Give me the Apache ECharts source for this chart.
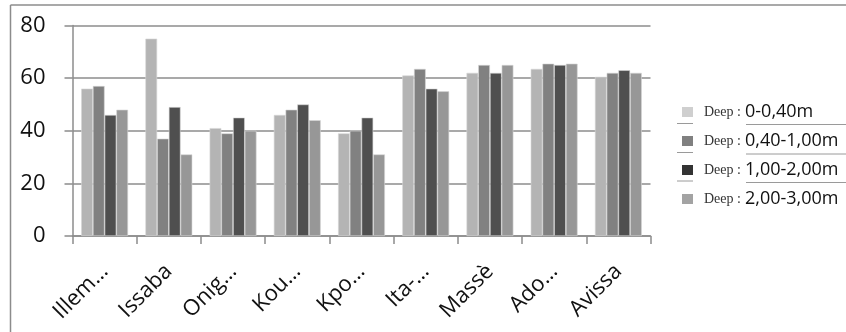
<!DOCTYPE html>
<html>
<head>
<meta charset="utf-8">
<script src="https://cdn.jsdelivr.net/npm/echarts@6/dist/echarts.min.js"></script>
<style>
  html, body { margin: 0; padding: 0; background: #fff; }
  #chart { width: 846px; height: 332px; }
</style>
</head>
<body>
<div id="chart"></div>
<script>
// Sites along the x axis (labels shortened as displayed)
const sites = ['Illem…', 'Issaba', 'Onig…', 'Kou…', 'Kpo…', 'Ita-…', 'Massè', 'Ado…', 'Avissa'];

// Depth classes
const depthNames = ['0-0,40m', '0,40-1,00m', '1,00-2,00m', '2,00-3,00m'];

// Values per depth class, one per site
const depth0to040 = [56, 75, 41, 46, 39, 61, 62, 63.5, 60.5];
const depth040to100 = [57, 37, 39, 48, 40, 63.5, 65, 65.5, 62];
const depth100to200 = [46, 49, 45, 50, 45, 56, 62, 65, 63];
const depth200to300 = [48, 31, 40, 44, 31, 55, 65, 65.5, 62];

const yTicks = { min: 0, max: 80, interval: 20 };

const seriesValues = [depth0to040, depth040to100, depth100to200, depth200to300];
const barColors = ['#b4b4b4', '#818181', '#4f4f4f', '#979797'];
const legendColors = ['#cfcfcf', '#808080', '#333333', '#a3a3a3'];

const chart = echarts.init(document.getElementById('chart'), null, { renderer: 'canvas' });

const series = seriesValues.map((vals, i) => ({
  name: 'Deep : ' + depthNames[i],
  type: 'bar',
  data: vals,
  barGap: '0%',
  barCategoryGap: '27%',
  itemStyle: { color: barColors[i], borderColor: '#d6d6d6', borderWidth: 0.6 },
  emphasis: { disabled: true }
}));

// Separator rules between legend entries
const sepGraphics = [];
[[123.5, 124.5], [152.5, 154], [181, 182.5]].forEach(([ys, yl]) => {
  sepGraphics.push({ type: 'line', shape: { x1: 677, y1: ys, x2: 693, y2: ys }, style: { stroke: '#9a9a9a', lineWidth: 1 } });
  sepGraphics.push({ type: 'line', shape: { x1: 746, y1: yl, x2: 846, y2: yl }, style: { stroke: '#9a9a9a', lineWidth: 1 } });
});

chart.setOption({
  animation: false,
  backgroundColor: '#ffffff',
  grid: { left: 72.5, right: 195.5, top: 25.5, bottom: 96, containLabel: false },
  legend: {
    orient: 'vertical',
    left: 677,
    top: 98,
    itemWidth: 11,
    itemHeight: 10,
    itemGap: 11,
    icon: 'rect',
    data: series.map((s, i) => ({ name: s.name, itemStyle: { color: legendColors[i], borderWidth: 0 } })),
    formatter: name => {
      const parts = name.split(' : ');
      return '{a|' + parts[0] + ' :}{b|' + parts[1] + '}';
    },
    textStyle: {
      rich: {
        a: { fontFamily: 'Liberation Serif', fontSize: 14, color: '#333', width: 41, padding: [0, 0, 0, 6] },
        b: { fontFamily: 'Open Sans', fontSize: 18, color: '#111' }
      }
    }
  },
  xAxis: {
    type: 'category',
    data: sites,
    axisLine: { lineStyle: { color: '#8c8c8c', width: 1.5 } },
    axisTick: { show: true, length: 8, lineStyle: { color: '#8c8c8c', width: 1.5 } },
    axisLabel: {
      rotate: 45,
      margin: 32,
      fontFamily: 'Open Sans',
      fontSize: 22,
      color: '#111',
      interval: 0
    }
  },
  yAxis: {
    type: 'value',
    min: yTicks.min,
    max: yTicks.max,
    interval: yTicks.interval,
    axisLine: { show: true, lineStyle: { color: '#8c8c8c', width: 1.5 } },
    axisTick: { show: true, length: 8, lineStyle: { color: '#8c8c8c', width: 1.5 } },
    splitLine: { lineStyle: { color: '#8c8c8c', width: 1.5 } },
    axisLabel: {
      margin: 27,
      fontFamily: 'Open Sans',
      fontSize: 22,
      color: '#111'
    }
  },
  graphic: [
    { type: 'line', shape: { x1: 10.5, y1: 5, x2: 846, y2: 5 }, style: { stroke: '#8c8c8c', lineWidth: 1.5 } },
    { type: 'line', shape: { x1: 10.5, y1: 5, x2: 10.5, y2: 332 }, style: { stroke: '#8c8c8c', lineWidth: 1.5 } }
  ].concat(sepGraphics),
  series: series
});
</script>
</body>
</html>
